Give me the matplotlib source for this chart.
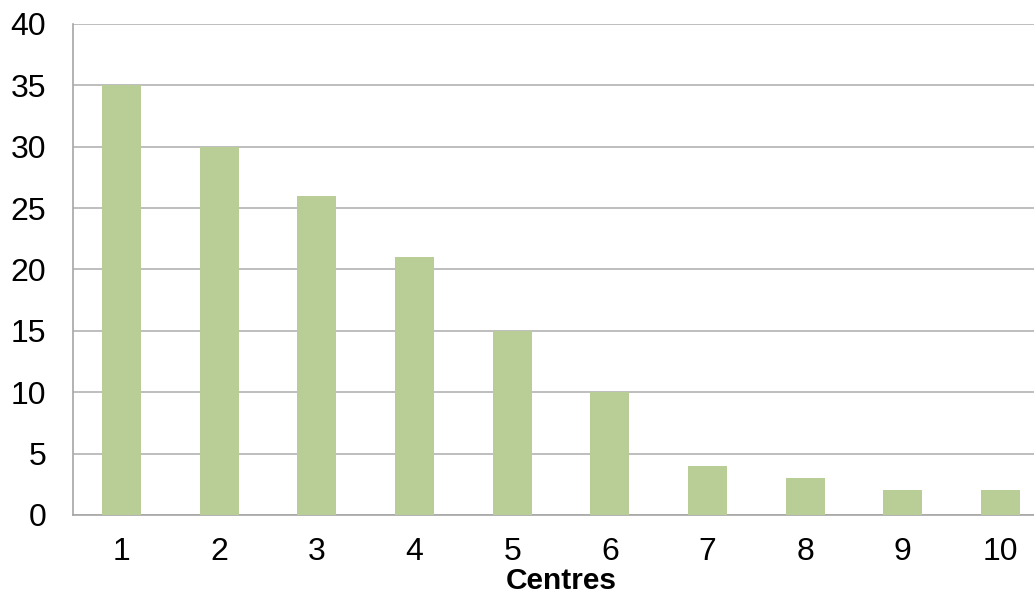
import matplotlib.pyplot as plt

plt.rcParams['font.family'] = ['Liberation Sans', 'DejaVu Sans']

centres = ['1', '2', '3', '4', '5', '6', '7', '8', '9', '10']
counts = [35, 30, 26, 21, 15, 10, 4, 3, 2, 2]

fig = plt.figure(figsize=(10.34, 5.95), dpi=100)
ax = fig.add_axes([0.0703, 0.1345, 0.9445, 0.8252])

x = range(1, len(centres) + 1)
ax.bar(x, counts, width=0.4, color='#b9cd96', zorder=3)

ax.set_xlim(0.5, 10.5)
ax.set_ylim(0, 40)
ax.set_yticks(range(0, 41, 5))
ax.set_xticks(list(x))
ax.set_xticklabels(centres)
ax.yaxis.grid(True, color='#b3b3b3', linewidth=1.2, zorder=0)
ax.tick_params(axis='both', length=0, labelsize=23)
ax.tick_params(axis='y', pad=19)
ax.tick_params(axis='x', pad=16)

for side in ['top', 'right']:
    ax.spines[side].set_visible(False)
for side in ['left', 'bottom']:
    ax.spines[side].set_color('#a6a6a6')
    ax.spines[side].set_linewidth(1.2)

ax.set_xlabel('Centres', fontsize=21.5, fontweight='bold', labelpad=0)

plt.savefig('out.png', dpi=100)
